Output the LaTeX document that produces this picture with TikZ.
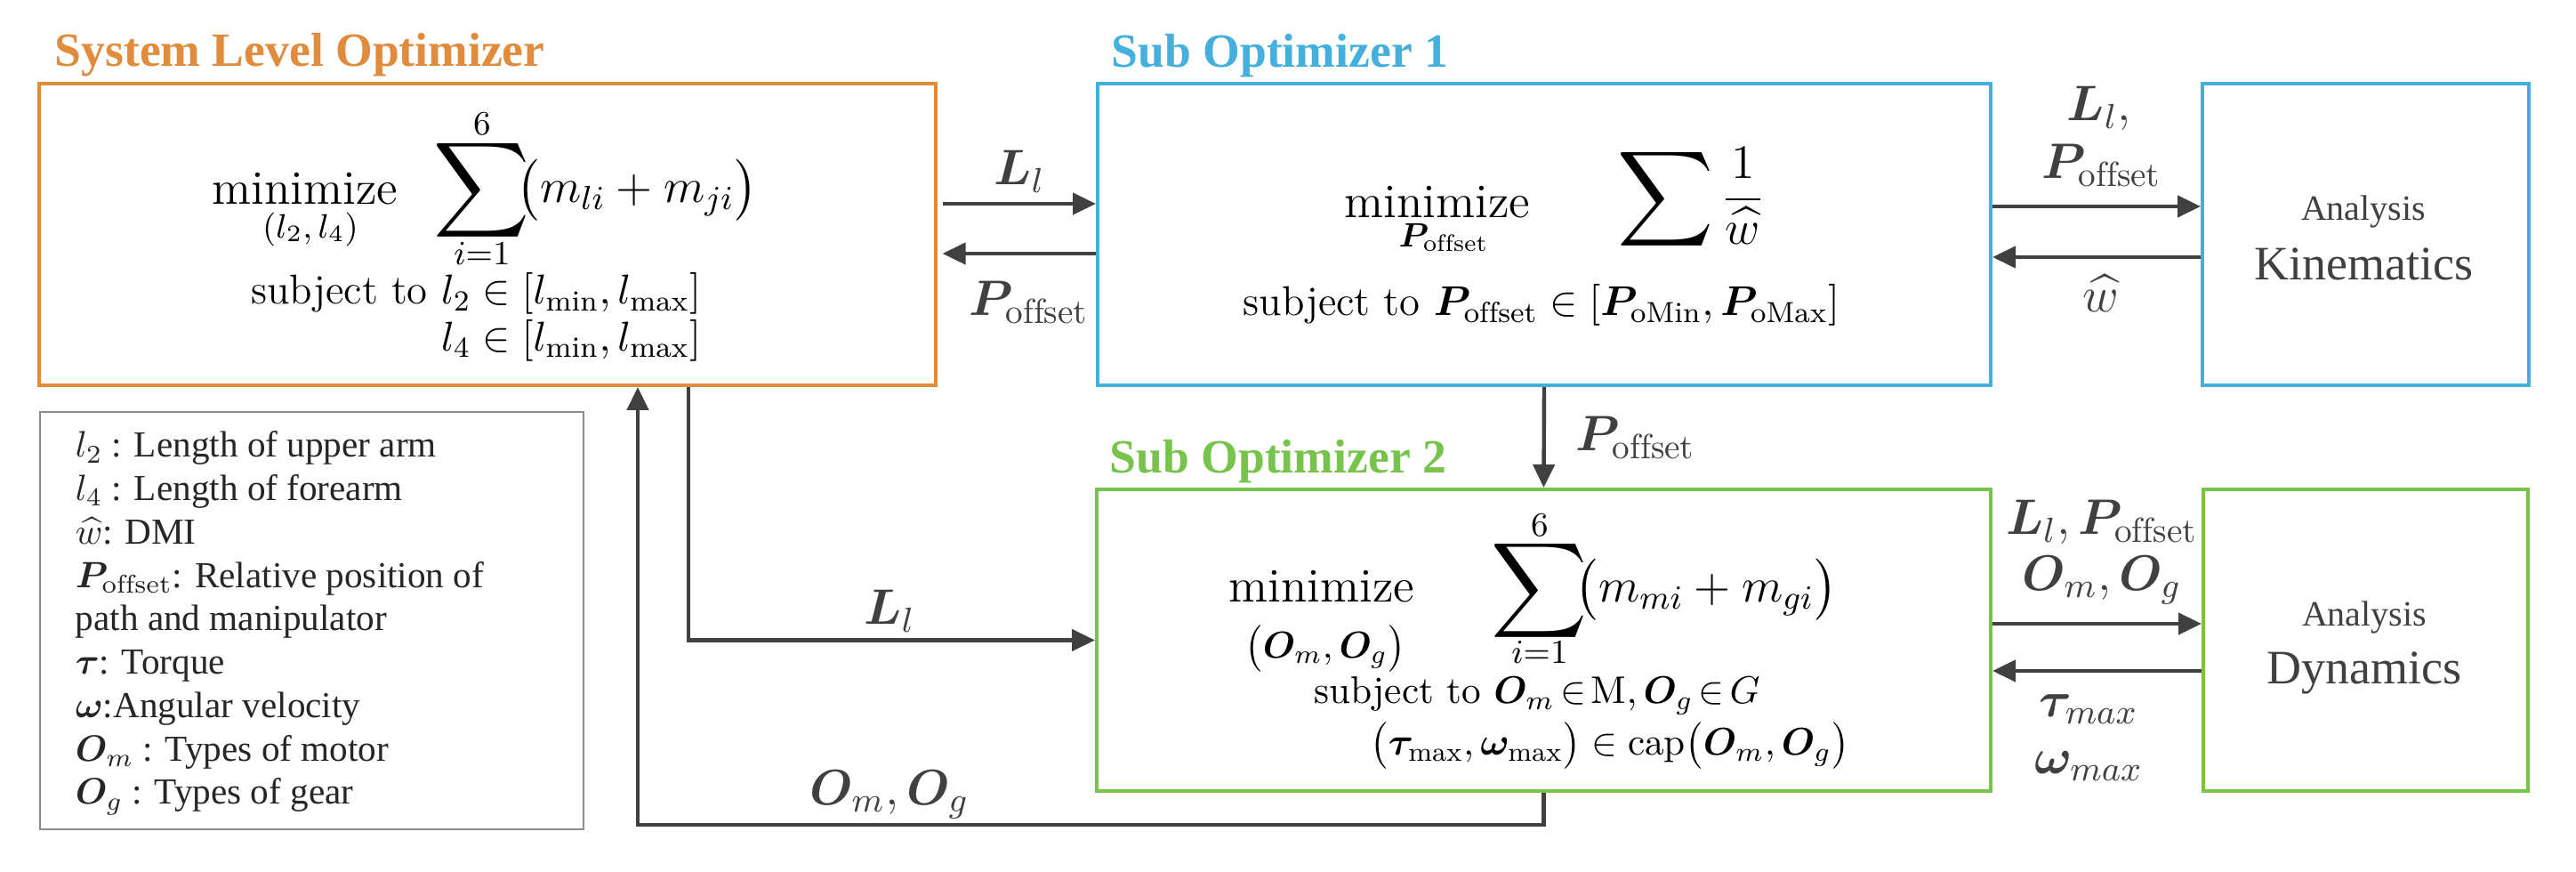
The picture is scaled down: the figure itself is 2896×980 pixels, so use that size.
\RequirePackage{fix-cm}
\documentclass[tikz,border=0pt]{standalone}
\usepackage{amsmath}
\usepackage{bm}
\usepackage{graphicx}
\usepackage{fontspec}
\newfontfamily\tnr{Liberation Serif}
\usetikzlibrary{arrows.meta}
\definecolor{orng}{HTML}{E08C3C}
\definecolor{blu}{HTML}{45B0DD}
\definecolor{grn}{HTML}{78C34B}
\definecolor{dgray}{HTML}{404040}
\definecolor{lgray}{HTML}{8C8C8C}
\newcommand{\BigSum}{\mathop{\vcenter{\hbox{\scalebox{1.3}{$\displaystyle\sum$}}}}}
\newcommand{\Poff}{\bm{P}_{\mathrm{offset}}}
\tikzset{
 box/.style={draw, line width=1pt, inner sep=0pt, anchor=north west},
 arr/.style={draw=dgray, line width=1.1pt, -{Triangle[length=6.5pt,width=6pt]}},
 eq/.style={inner sep=0pt, font=\fontsize{13.5}{16}\selectfont},
 cons/.style={inner sep=0pt, font=\fontsize{11.7}{14}\selectfont},
 sublim/.style={inner sep=0pt, font=\fontsize{9.5}{11}\selectfont},
 lab/.style={inner sep=0pt, text=dgray, font=\fontsize{14}{16}\selectfont},
 ttl/.style={inner sep=0pt, anchor=base west, font=\tnr\bfseries\fontsize{13.4}{16}\selectfont},
 leg/.style={inner sep=0pt, anchor=base west, text=black!85, font=\tnr\fontsize{10.3}{12}\selectfont},
 ana/.style={inner sep=0pt, anchor=base, text=dgray, font=\tnr\fontsize{10}{12}\selectfont},
 anb/.style={inner sep=0pt, anchor=base, text=dgray, font=\tnr\fontsize{13.5}{16}\selectfont},
}
\begin{document}
\begin{tikzpicture}[x=0.25pt,y=-0.25pt]
\fill[white] (0,0) rectangle (2896,980);
\useasboundingbox (0,0) rectangle (2896,980);
% boxes
\node[box, draw=orng, minimum width=252pt, minimum height=84.75pt] (sys) at (42,92) {};
\node[box, draw=blu, minimum width=251pt, minimum height=84.75pt] (sub1) at (1232,92) {};
\node[box, draw=blu, minimum width=91.75pt, minimum height=84.75pt] (kin) at (2474,92) {};
\node[box, draw=grn, minimum width=251.25pt, minimum height=84.75pt] (sub2) at (1231,548) {};
\node[box, draw=grn, minimum width=91.25pt, minimum height=84.75pt] (dyn) at (2475,548) {};
\node[box, draw=lgray, line width=0.6pt, minimum width=152.75pt, minimum height=117.25pt] (leg) at (44,462) {};
% titles
\node[ttl, text=orng] (t1) at (61,75) {System Level Optimizer};
\node[ttl, text=blu] (t2) at (1249,76) {Sub Optimizer 1};
\node[ttl, text=grn] (t3) at (1247,532) {Sub Optimizer 2};
% system level content
\node[eq, anchor=base] (m1) at (343,230) {minimize};
\node[sublim] (m1s) at (349,258) {$(l_2,l_4)$};
\node[eq] (s1) at (542,214) {$\BigSum$};
\node[sublim] (s1t) at (542,139) {$6$};
\node[sublim] (s1b) at (542,285) {$i{=}1$};
\node[eq, anchor=west] (s1e) at (580,214) {$\bigl(m_{li}+m_{ji}\bigr)$};
\node[cons, anchor=base east] (c1) at (789,342) {subject to $l_2\in[l_{\min},l_{\max}]$};
\node[cons, anchor=base east] (c2) at (789,395) {$l_4\in[l_{\min},l_{\max}]$};
% sub optimizer 1 content
\node[eq, anchor=base] (m2) at (1616,245) {minimize};
\node[sublim] (m2s) at (1623,267) {$\Poff$};
\node[eq] (s2) at (1901,224) {$\displaystyle\BigSum\frac{1}{\widehat{w}}$};
\node[cons, anchor=base] (c3) at (1733,355) {subject to $\Poff\in[\bm{P}_{\mathrm{oMin}},\bm{P}_{\mathrm{oMax}}]$};
% sub optimizer 2 content
\node[eq, anchor=base] (m3) at (1486,677) {minimize};
\node[sublim, font=\fontsize{10.5}{12}\selectfont] (m3s) at (1490,729) {$\bigl(\bm{O}_m,\bm{O}_g\bigr)$};
\node[eq] (s3) at (1731,664) {$\BigSum$};
\node[sublim] (s3t) at (1731,590) {$6$};
\node[sublim] (s3b) at (1731,733) {$i{=}1$};
\node[eq, anchor=west] (s3e) at (1770,663) {$\bigl(m_{mi}+m_{gi}\bigr)$};
\node[cons, anchor=base, font=\fontsize{10.8}{14}\selectfont] (c4) at (1728,791) {subject to $\thickmuskip=2.5mu \bm{O}_m\in\mathrm{M},\bm{O}_g\in G$};
\node[cons, font=\fontsize{10.8}{14}\selectfont] (c5) at (1810,838) {$\bigl(\bm{\tau}_{\max},\bm{\omega}_{\max}\bigr)\in\mathrm{cap}\bigl(\bm{O}_m,\bm{O}_g\bigr)$};
% analysis boxes
\node[ana] (ka) at (2657,248) {Analysis};
\node[anb] (kb) at (2657,315) {Kinematics};
\node[ana] (da) at (2658,704) {Analysis};
\node[anb] (db) at (2658,769) {Dynamics};
% legend
\node[leg] (g1) at (84,514) {$l_2$ : Length of upper arm};
\node[leg] (g2) at (84,562.75) {$l_4$ : Length of forearm};
\node[leg] (g3) at (84,611.5) {$\widehat{w}$: DMI};
\node[leg] (g4) at (84,660.25) {$\Poff$: Relative position of};
\node[leg] (g5) at (84,709) {path and manipulator};
\node[leg] (g6) at (84,757.75) {$\bm{\tau}$: Torque};
\node[leg] (g7) at (84,806.5) {$\bm{\omega}$:Angular velocity};
\node[leg] (g8) at (84,855.25) {$\bm{O}_m$ : Types of motor};
\node[leg] (g9) at (84,904) {$\bm{O}_g$ : Types of gear};
% helper coordinates
\coordinate (ya) at (0,229);
\coordinate (yb) at (0,285);
\coordinate (yc) at (0,232);
\coordinate (yd) at (0,289);
\coordinate (ye) at (0,701);
\coordinate (yf) at (0,754);
\coordinate (yg) at (0,927);
\coordinate (xl) at (774,0);
\coordinate (xr) at (717,0);
% connectors
\draw[arr, shorten <=1.4pt] (sys.east |- ya) -- (sub1.west |- ya);
\draw[arr, shorten >=1.4pt] (sub1.west |- yb) -- (sys.east |- yb);
\draw[arr] (sub1.east |- yc) -- (kin.west |- yc);
\draw[arr] (kin.west |- yd) -- (sub1.east |- yd);
\draw[arr] (sub2.east |- ye) -- (dyn.west |- ye);
\draw[arr] (dyn.west |- yf) -- (sub2.east |- yf);
\draw[arr] (sub1.south) -- (sub2.north);
\draw[arr] (sys.south -| xl) |- (sub2.west);
\draw[arr] (sub2.south) |- (xr |- yg) -- (sys.south -| xr);
% connector labels
\node[lab] (lLl) at (1146,193) {$\bm{L}_l$};
\node[lab] (lP1) at (1157,340) {$\Poff$};
\node[lab] (lk1) at (2360,122) {$\bm{L}_l,$};
\node[lab] (lk2) at (2363,186) {$\Poff$};
\node[lab] (lk3) at (2362,330) {$\widehat{w}$};
\node[lab] (ld) at (1839,492) {$\Poff$};
\node[lab] (ly1) at (2363,587) {$\bm{L}_l,\Poff$};
\node[lab] (ly2) at (2363,652) {$\bm{O}_m,\bm{O}_g$};
\node[lab] (ly3) at (2348,797) {$\bm{\tau}_{max}$};
\node[lab] (ly4) at (2348,861) {$\bm{\omega}_{max}$};
\node[lab] (lc1) at (1000,687) {$\bm{L}_l$};
\node[lab] (lc2) at (1000,893) {$\bm{O}_m,\bm{O}_g$};
\end{tikzpicture}
\end{document}
